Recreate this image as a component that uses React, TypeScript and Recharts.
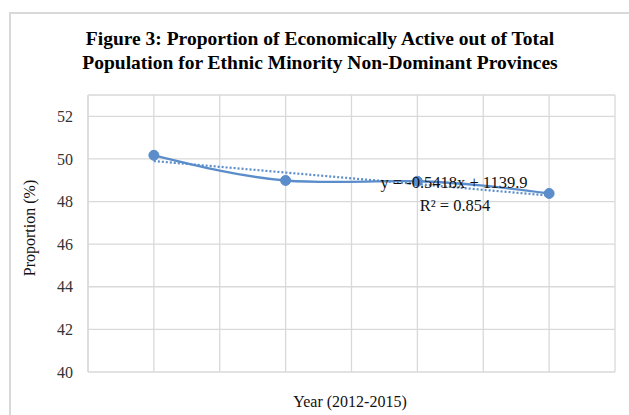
import { LineChart, Line, XAxis, YAxis, CartesianGrid, ReferenceLine } from 'recharts';

// proportion values
const YEARS = [2012, 2013, 2014, 2015];
const PROPORTION = [50.17, 48.99, 48.95, 48.38];

// linear trendline end points (as drawn)
const TREND_YEARS = [2012, 2015];
const TREND_VALUES = [49.9, 48.28];

const X_DOMAIN = [2011.5, 2015.5];
const X_TICKS = [2011.5, 2012, 2012.5, 2013, 2013.5, 2014, 2014.5, 2015, 2015.5];
const Y_TICKS = [40, 42, 44, 46, 48, 50, 52];

const seriesData = YEARS.map((year, i) => ({ year, value: PROPORTION[i] }));
const trendData = TREND_YEARS.map((year, i) => ({ year, trend: TREND_VALUES[i] }));

const LINE_COLOR = '#5B8DCB';
const GRID_COLOR = '#d9d9d9';
const FONT = '"Liberation Serif", "Times New Roman", serif';

const NoTick = () => <g />;

export default function App() {
    return (
        <div style={{ position: 'absolute', left: 0, top: 0, width: 629, height: 415, overflow: 'hidden', background: '#fff', fontFamily: FONT }}>
            <div style={{ position: 'absolute', left: 9, top: 12, width: 660, height: 440, borderTop: `2px solid ${GRID_COLOR}`, borderLeft: `2px solid ${GRID_COLOR}` }} />

            <div style={{ position: 'absolute', left: 0, top: 27, width: 640, textAlign: 'center', fontWeight: 'bold', fontSize: 19.5, lineHeight: '24px', color: '#000' }}>
                Figure 3: Proportion of Economically Active out of Total<br />
                Population for Ethnic Minority Non-Dominant Provinces
            </div>

            <LineChart width={629} height={415} margin={{ top: 95, right: 14, bottom: 43, left: 28 }} style={{ position: 'absolute', left: 0, top: 0 }}>
                <CartesianGrid stroke={GRID_COLOR} strokeWidth={1.3} vertical={false} />
                <XAxis
                    type="number"
                    dataKey="year"
                    domain={X_DOMAIN}
                    ticks={X_TICKS}
                    interval={0}
                    tick={NoTick}
                    tickLine={false}
                    axisLine={{ stroke: GRID_COLOR, strokeWidth: 1.3 }}
                    height={0}
                />
                <YAxis
                    type="number"
                    domain={[40, 53]}
                    ticks={Y_TICKS}
                    interval={0}
                    width={60}
                    axisLine={{ stroke: GRID_COLOR, strokeWidth: 1.3 }}
                    tickLine={false}
                    tickMargin={9}
                    tick={{ fill: '#333', fontSize: 16, fontFamily: FONT }}
                />
                {X_TICKS.map((v) => (
                    <ReferenceLine key={v} x={v} stroke={GRID_COLOR} strokeWidth={1.3} ifOverflow="extendDomain" />
                ))}
                <Line
                    data={trendData}
                    dataKey="trend"
                    type="linear"
                    stroke={LINE_COLOR}
                    strokeWidth={2.2}
                    strokeDasharray="2 2"
                    dot={false}
                    activeDot={false}
                    isAnimationActive={false}
                />
                <Line
                    data={seriesData}
                    dataKey="value"
                    type="natural"
                    stroke={LINE_COLOR}
                    strokeWidth={2.4}
                    dot={{ r: 5, fill: LINE_COLOR, stroke: LINE_COLOR, strokeWidth: 1 }}
                    activeDot={false}
                    isAnimationActive={false}
                />
            </LineChart>

            <div style={{ position: 'absolute', left: 454, top: 183, transform: 'translate(-50%, -50%)', fontSize: 16.5, color: '#111', whiteSpace: 'nowrap' }}>
                y = -0.5418x + 1139.9
            </div>
            <div style={{ position: 'absolute', left: 455, top: 206, transform: 'translate(-50%, -50%)', fontSize: 16.5, color: '#111', whiteSpace: 'nowrap' }}>
                R² = 0.854
            </div>

            <div style={{ position: 'absolute', left: 30, top: 228, transform: 'translate(-50%, -50%) rotate(-90deg)', fontSize: 16, color: '#111', whiteSpace: 'nowrap' }}>
                Proportion (%)
            </div>
            <div style={{ position: 'absolute', left: 350, top: 402, transform: 'translate(-50%, -50%)', fontSize: 16, color: '#111', whiteSpace: 'nowrap' }}>
                Year (2012-2015)
            </div>
        </div>
    );
}
